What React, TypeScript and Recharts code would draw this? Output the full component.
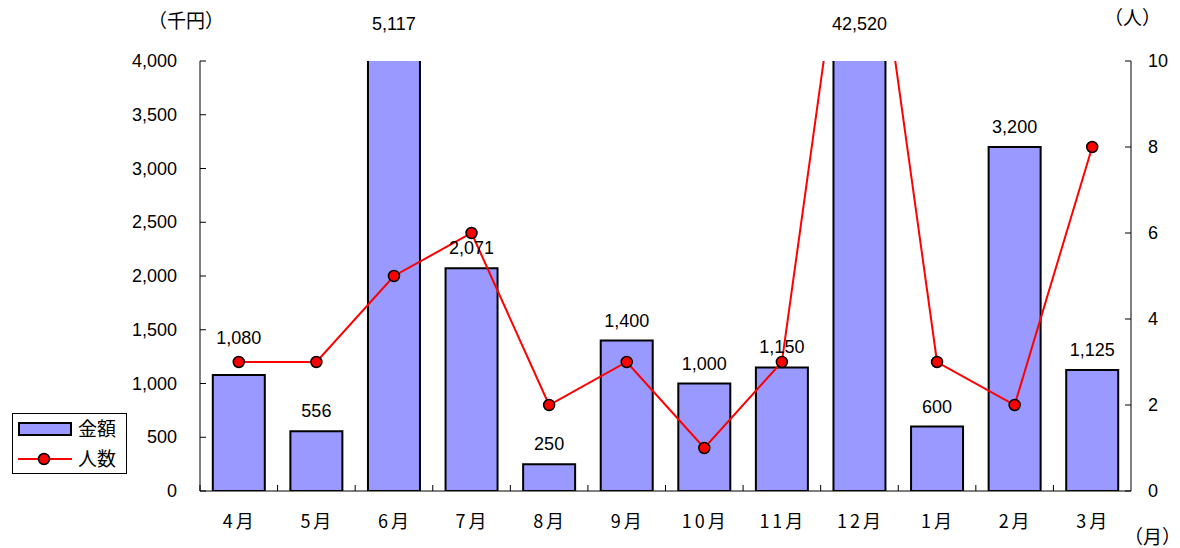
import React from 'react'
import {
  ComposedChart, Bar, Line, XAxis, YAxis, LabelList,
} from 'recharts'

const months = ['4月', '5月', '6月', '7月', '8月', '9月', '10月', '11月', '12月', '1月', '2月', '3月']
const amounts = [1080, 556, 5117, 2071, 250, 1400, 1000, 1150, 42520, 600, 3200, 1125]
const people = [3, 3, 5, 6, 2, 3, 1, 3, 16, 3, 2, 8]
const leftTicks = [0, 500, 1000, 1500, 2000, 2500, 3000, 3500, 4000]
const rightTicks = [0, 2, 4, 6, 8, 10]

const data = months.map((m, i) => ({ month: m, amount: amounts[i], people: people[i] }))

const W = 1180
const H = 548
const PLOT_LEFT = 200
const PLOT_RIGHT = 1131
const PLOT_TOP = 61
const PLOT_BOTTOM = 491
const BAND = (PLOT_RIGHT - PLOT_LEFT) / months.length
const LEFT_MAX = 4000
const RIGHT_MAX = 10

const FONT = '"Liberation Sans", Arial, "Noto Sans CJK JP", sans-serif'
const JP = '"Noto Sans CJK JP", sans-serif'

const fmt = (v: number) => v.toLocaleString('en-US')

function LeftTick(props: any) {
  const { y, payload } = props
  return (
    <g>
      <line x1={PLOT_LEFT} x2={PLOT_LEFT + 6} y1={y} y2={y} stroke="#000" strokeWidth={1} />
      <text x={177} y={y} dy={6} textAnchor="end" fontSize={18} fontFamily={FONT} fill="#000">
        {fmt(payload.value)}
      </text>
    </g>
  )
}

function RightTick(props: any) {
  const { y, payload } = props
  return (
    <g>
      <line x1={PLOT_RIGHT - 6} x2={PLOT_RIGHT} y1={y} y2={y} stroke="#000" strokeWidth={1} />
      <text x={1148} y={y} dy={6} textAnchor="start" fontSize={18} fontFamily={FONT} fill="#000">
        {payload.value}
      </text>
    </g>
  )
}

function MonthTick(props: any) {
  const { x, payload } = props
  const bx = x - BAND / 2
  return (
    <g>
      <line x1={bx} x2={bx} y1={PLOT_BOTTOM} y2={PLOT_BOTTOM - 6} stroke="#000" strokeWidth={1} />
      <text x={x + 1} y={528} textAnchor="middle" fontSize={18} fontFamily={JP} fill="#000" letterSpacing={3}>
        {payload.value}
      </text>
    </g>
  )
}

// label sits ~20px above the bar; if it would sit on top of the line's dot, lift it above the dot
function BarValue(props: any) {
  const { x, y, width, value, index } = props
  const cx = x + width / 2
  let center = value > LEFT_MAX ? 24 : y - 20
  const dotY = PLOT_BOTTOM - (people[index] / RIGHT_MAX) * (PLOT_BOTTOM - PLOT_TOP)
  if (value <= LEFT_MAX && Math.abs(center - dotY) < 10) center = dotY - 24
  return (
    <text x={cx} y={center + 6} textAnchor="middle" fontSize={18} fontFamily={FONT} fill="#000">
      {fmt(value)}
    </text>
  )
}

function Legend() {
  return (
    <div style={{
      position: 'absolute', left: 12, top: 413, width: 115, height: 61,
      border: '1px solid #000', background: '#fff', boxSizing: 'border-box',
      fontFamily: JP, fontSize: 19, color: '#000',
    }}>
      <svg width={62} height={60} style={{ position: 'absolute', left: 0, top: 0 }}>
        <rect x={6} y={9} width={52} height={12} fill="#9999ff" stroke="#000" strokeWidth={2} />
        <line x1={5} x2={59} y1={45} y2={45} stroke="#ff0000" strokeWidth={2} />
        <circle cx={31} cy={45} r={5.5} fill="#ff0000" stroke="#000" strokeWidth={1.5} />
      </svg>
      <div style={{ position: 'absolute', left: 65, top: 1, lineHeight: '26px' }}>金額</div>
      <div style={{ position: 'absolute', left: 65, top: 31, lineHeight: '26px' }}>人数</div>
    </div>
  )
}

export default function App() {
  return (
    <div style={{ position: 'relative', width: W, height: H, background: '#fff' }}>
      <style>{'body{margin:0}'}</style>
      <ComposedChart
        width={W}
        height={H}
        data={data}
        margin={{ top: PLOT_TOP, right: 0, left: 0, bottom: 0 }}
        barCategoryGap="16.5%"
      >
        <XAxis
          dataKey="month"
          height={H - PLOT_BOTTOM}
          axisLine={{ stroke: '#000', strokeWidth: 1 }}
          tickLine={false}
          tick={<MonthTick />}
          interval={0}
        />
        <YAxis
          yAxisId="left"
          width={PLOT_LEFT}
          domain={[0, LEFT_MAX]}
          ticks={leftTicks}
          allowDataOverflow
          axisLine={{ stroke: '#000', strokeWidth: 1 }}
          tickLine={false}
          tick={<LeftTick />}
        />
        <YAxis
          yAxisId="right"
          orientation="right"
          width={W - PLOT_RIGHT}
          domain={[0, RIGHT_MAX]}
          ticks={rightTicks}
          allowDataOverflow
          axisLine={{ stroke: '#000', strokeWidth: 1 }}
          tickLine={false}
          tick={<RightTick />}
        />
        <Bar
          yAxisId="left"
          dataKey="amount"
          fill="#9999ff"
          stroke="#000"
          strokeWidth={2}
          isAnimationActive={false}
        >
          <LabelList dataKey="amount" content={<BarValue />} />
        </Bar>
        <Line
          yAxisId="right"
          dataKey="people"
          type="linear"
          stroke="#ff0000"
          strokeWidth={2}
          dot={{ r: 5.5, fill: '#ff0000', stroke: '#000', strokeWidth: 1.5 }}
          isAnimationActive={false}
        />
      </ComposedChart>
      <div style={{ position: 'absolute', left: 148, top: 6, fontFamily: JP, fontSize: 19 }}>（千円）</div>
      <div style={{ position: 'absolute', left: 1104, top: 3, fontFamily: JP, fontSize: 19 }}>（人）</div>
      <div style={{ position: 'absolute', left: 1124, top: 522, fontFamily: JP, fontSize: 19 }}>（月）</div>
      <Legend />
    </div>
  )
}
